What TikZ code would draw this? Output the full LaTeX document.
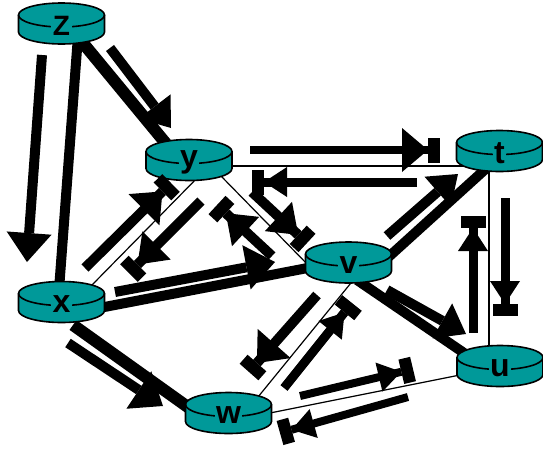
\documentclass[tikz,border=0pt]{standalone}
\usepackage{fontspec}
\setmainfont{Liberation Sans}
\usetikzlibrary{arrows.meta,backgrounds}
\definecolor{routerfill}{RGB}{0,153,153}
\tikzset{
  router/.style={rectangle, minimum width=88pt, minimum height=43pt, inner sep=0pt,
    path picture={
      \begin{scope}[shift={(path picture bounding box.center)}]
        \fill[routerfill] (-43pt,8.5pt) -- (-43pt,-8.5pt)
          arc[start angle=180,end angle=360,x radius=43pt,y radius=12pt]
          -- (43pt,8.5pt)
          arc[start angle=0,end angle=180,x radius=43pt,y radius=12pt] -- cycle;
        \draw[line width=1.6pt] (-43pt,8.5pt) -- (-43pt,-8.5pt)
          arc[start angle=180,end angle=360,x radius=43pt,y radius=12pt]
          -- (43pt,8.5pt)
          arc[start angle=0,end angle=180,x radius=43pt,y radius=12pt] -- cycle;
        \draw[line width=1.6pt] (-43pt,8.5pt)
          arc[start angle=180,end angle=360,x radius=43pt,y radius=12pt];
      \end{scope}}},
  rlabel/.style={fill=routerfill, inner sep=1.5pt, yshift=-2.5pt,
    font=\fontsize{32}{32}\selectfont\bfseries},
  thinlink/.style={line width=1.2pt},
  thicklink/.style={line width=10pt},
  msgL/.style={line width=10pt,-{Triangle[length=29pt,width=45pt,line width=0pt]}},
  msgM/.style={line width=10pt,-{Triangle[length=27pt,width=40pt,line width=0pt]}},
  msgLb/.style={line width=10pt,-{Triangle[length=26pt,width=44pt,line width=0pt]Rectangle[length=12pt,width=25pt,line width=0pt]}},
  msgMb/.style={line width=10pt,-{Triangle[length=27pt,width=40pt,line width=0pt]Rectangle[length=12pt,width=25pt,line width=0pt]}},
  msgSb/.style={line width=9pt,-{Triangle[length=23pt,width=30pt,line width=0pt]Rectangle[length=12pt,width=25pt,line width=0pt]}},
}
\begin{document}
\begin{tikzpicture}[x=1pt,y=-1pt]
\useasboundingbox (0,0) rectangle (543,450);
% routers
\node[router,label={[rlabel,font=\fontsize{28}{28}\selectfont\bfseries]center:Z}] (z) at (61.5,23.5) {};
\node[router,label={[rlabel]center:y}] (y) at (189,160) {};
\node[router,label={[rlabel]center:t}] (t) at (499.5,151) {};
\node[router,label={[rlabel]center:v}] (v) at (348.5,262.5) {};
\node[router,label={[rlabel]center:x}] (x) at (61.5,302) {};
\node[router,label={[rlabel]center:w}] (w) at (228.5,413) {};
\node[router,label={[rlabel]center:u}] (u) at (500,366) {};
% links
\begin{scope}[on background layer]
\draw[thicklink] ([shift={(16.5,12.5)}]z.center) -- ([shift={(-2,-19)}]x.center);
\draw[thicklink,line width=12pt] ([shift={(16.5,13.5)}]z.center) -- ([shift={(-21,-14)}]y.center);
\draw[thinlink] ([shift={(0,6)}]y.center) -- ([shift={(-10.5,15)}]t.center);
\draw[thinlink] ([shift={(13,13)}]y.center) -- ([shift={(30.5,-17)}]x.center);
\draw[thinlink] ([shift={(31,15)}]y.center) -- ([shift={(-38.5,4.5)}]v.center);
\draw[thicklink] ([shift={(32.5,7)}]x.center) -- ([shift={(-30.5,3.5)}]v.center);
\draw[thicklink] ([shift={(-9.5,14)}]t.center) -- ([shift={(40,-5.5)}]v.center);
\draw[thinlink] ([shift={(-10.5,14)}]t.center) -- ([shift={(-11,-16)}]u.center);
\draw[thicklink] ([shift={(8.5,17.5)}]v.center) -- ([shift={(-33,-11)}]u.center);
\draw[thinlink] ([shift={(6.5,15.5)}]v.center) -- ([shift={(29.5,-16)}]w.center);
\draw[thinlink] ([shift={(41.5,0)}]w.center) -- ([shift={(-40,9)}]u.center);
\draw[thicklink,line width=12pt] ([shift={(11.5,23)}]x.center) -- ([shift={(-36.5,-3)}]w.center);
\end{scope}
% message arrows
\coordinate (zx1) at (42,55);   \coordinate (zx2) at (27,262);
\coordinate (zy1) at (110,48);  \coordinate (zy2) at (171,128);
\coordinate (yt1) at (250,150); \coordinate (yt2) at (440,150);
\coordinate (ty1) at (417,182); \coordinate (ty2) at (252,182);
\coordinate (yv1) at (252,192); \coordinate (yv2) at (307,243);
\coordinate (vy1) at (272,256); \coordinate (vy2) at (217,205);
\coordinate (xy1) at (85,268);  \coordinate (xy2) at (171,183);
\coordinate (yx1) at (201,201); \coordinate (yx2) at (129,273);
\coordinate (xv1) at (115,292); \coordinate (xv2) at (275,262);
\coordinate (vt1) at (387,236); \coordinate (vt2) at (458,174);
\coordinate (tu1) at (505,198); \coordinate (tu2) at (505,316);
\coordinate (ut1) at (473,333); \coordinate (ut2) at (473,216);
\coordinate (vu1) at (387,290); \coordinate (vu2) at (466,334);
\coordinate (vw1) at (317,295); \coordinate (vw2) at (249,372);
\coordinate (wv1) at (284,388); \coordinate (wv2) at (352,303);
\coordinate (wu1) at (300,396); \coordinate (wu2) at (413,369);
\coordinate (uw1) at (408,397); \coordinate (uw2) at (280,433);
\coordinate (xw1) at (68,343);  \coordinate (xw2) at (163,406);
\draw[msgL] (zx1) -- (zx2);
\draw[msgM] (zy1) -- (zy2);
\draw[msgLb,line width=8pt] (yt1) -- (yt2);
\draw[msgSb] (ty1) -- (ty2);
\draw[msgMb] (yv1) -- (yv2);
\draw[msgMb] (vy1) -- (vy2);
\draw[msgLb] (xy1) -- (xy2);
\draw[msgMb] (yx1) -- (yx2);
\draw[msgL] (xv1) -- (xv2);
\draw[msgM] (vt1) -- (vt2);
\draw[msgSb] (tu1) -- (tu2);
\draw[msgSb] (ut1) -- (ut2);
\draw[msgM] (vu1) -- (vu2);
\draw[msgLb] (vw1) -- (vw2);
\draw[msgSb] (wv1) -- (wv2);
\draw[msgSb,line width=8pt] (wu1) -- (wu2);
\draw[msgSb,line width=8pt] (uw1) -- (uw2);
\draw[msgL] (xw1) -- (xw2);
\end{tikzpicture}
\end{document}
